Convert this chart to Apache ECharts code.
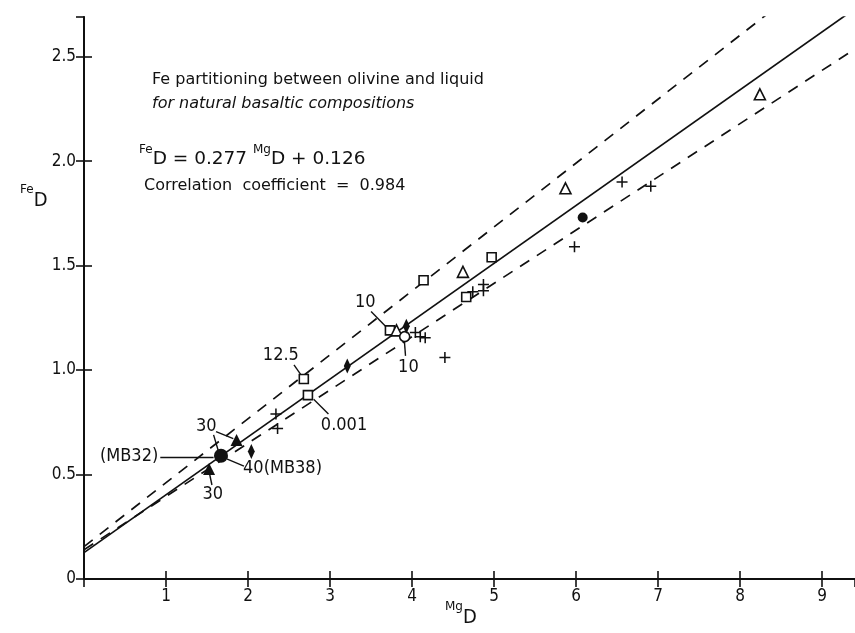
<!DOCTYPE html>
<html>
<head>
<meta charset="utf-8">
<script src="https://cdn.jsdelivr.net/npm/echarts@6/dist/echarts.min.js"></script>
<style>
  html, body { margin: 0; padding: 0; background: #fff; }
  #chart { width: 855px; height: 633px; }
</style>
</head>
<body>
<div id="chart"></div>
<script>
// Partition coefficients (MgD, FeD), grouped by plotting symbol
const openSquares     = [[4.97, 1.54], [4.14, 1.43], [4.66, 1.35], [3.73, 1.19], [2.68, 0.957], [2.73, 0.88]];
const openTriangles   = [[5.87, 1.87], [4.62, 1.47], [8.24, 2.32], [3.81, 1.19]];
const openCircles     = [[3.91, 1.16]];
const filledCircles   = [[6.08, 1.73]];
const largeDots       = [[1.67, 0.59]];
const filledTriangles = [[1.86, 0.665], [1.525, 0.526]];
const filledDiamonds  = [[3.21, 1.02], [2.04, 0.61], [3.93, 1.21]];
const crosses = [
  [4.74, 1.375], [4.87, 1.41], [4.87, 1.38], [4.04, 1.18], [4.10, 1.16], [4.16, 1.155],
  [4.40, 1.06], [6.56, 1.90], [6.91, 1.88], [5.98, 1.59], [2.34, 0.79], [2.36, 0.72]
];

// Regression line and the two bounding lines: [slope, intercept]
const fitLine    = [0.277, 0.126];
const upperBound = [0.306, 0.155];
const lowerBound = [0.255, 0.140];

// Axis ranges and ticks
const xRange = [0, 9.4];
const yRange = [0, 2.69];
const xStep = 1;
const yStep = 0.5;

// Run-condition callouts: label, anchor of the text, leader segments
const callouts = [
  { text: '10',       at: [3.43, 1.325], leaders: [[[3.50, 1.28], [3.70, 1.20]]] },
  { text: '10',       at: [3.955, 1.012], leaders: [[[3.905, 1.145], [3.92, 1.068]]] },
  { text: '12.5',     at: [2.40, 1.07],  leaders: [[[2.56, 1.025], [2.65, 0.975]]] },
  { text: '0.001',    at: [3.17, 0.737], leaders: [[[2.80, 0.86], [2.98, 0.79]]] },
  { text: '30',       at: [1.49, 0.733], leaders: [[[1.61, 0.705], [1.82, 0.672]], [[1.58, 0.69], [1.64, 0.61]]] },
  { text: '(MB32)',   at: [0.55, 0.585], leaders: [[[0.93, 0.583], [1.58, 0.583]]] },
  { text: '40(MB38)', at: [2.42, 0.531], leaders: [[[1.74, 0.575], [1.95, 0.54]]] },
  { text: '30',       at: [1.57, 0.405], leaders: [[[1.53, 0.505], [1.56, 0.45]]] }
];

const INK = '#111';
const NUM_FONT = "'DejaVu Sans Condensed', 'DejaVu Sans', sans-serif";
const TXT_FONT = "'DejaVu Sans', sans-serif";

function lineData(coef) {
  return [[xRange[0], coef[1] + coef[0] * xRange[0]], [xRange[1], coef[1] + coef[0] * xRange[1]]];
}

function onStep(v, step) {
  return Math.abs(v / step - Math.round(v / step)) < 1e-9;
}

const openStyle = { color: '#fff', borderColor: INK, borderWidth: 1.6, opacity: 1 };
const solidStyle = { color: INK, opacity: 1 };
const plusPath = 'path://M4.3,0H5.7V10H4.3Z M0,4.3H10V5.7H0Z';

function scatter(data, symbol, size, style) {
  return {
    type: 'scatter', data: data, symbol: symbol, symbolSize: size,
    itemStyle: style, z: 5, silent: true, animation: false
  };
}

const leaderSegments = [];
callouts.forEach(c => c.leaders.forEach(seg => leaderSegments.push({ coords: seg })));

const chart = echarts.init(document.getElementById('chart'), null, { renderer: 'canvas' });

const xAxisBase = {
  type: 'value', min: xRange[0], max: xRange[1], interval: xStep,
  splitLine: { show: false }
};
const yAxisBase = {
  type: 'value', min: yRange[0], max: yRange[1], interval: yStep,
  splitLine: { show: false }
};

chart.setOption({
  animation: false,
  backgroundColor: '#fff',
  grid: { left: 84, top: 17, width: 774, height: 562, containLabel: false },
  xAxis: [
    Object.assign({}, xAxisBase, {
      position: 'bottom',
      axisLine: { lineStyle: { color: INK, width: 2 } },
      axisTick: { inside: true, length: 8, lineStyle: { color: INK, width: 1.6 } },
      axisLabel: {
        color: INK, fontSize: 17, fontFamily: NUM_FONT, margin: 9, showMaxLabel: false,
        formatter: v => (v === 0 || !onStep(v, xStep)) ? '' : String(v)
      }
    }),
    Object.assign({}, xAxisBase, {
      position: 'top',
      axisLine: { lineStyle: { color: INK, width: 1.6 } },
      axisTick: { inside: true, length: 8, lineStyle: { color: INK, width: 1.6 } },
      axisLabel: { show: false }
    })
  ],
  yAxis: [
    Object.assign({}, yAxisBase, {
      position: 'left',
      axisLine: { lineStyle: { color: INK, width: 2 } },
      axisTick: { inside: true, length: 8, lineStyle: { color: INK, width: 1.6 } },
      axisLabel: {
        color: INK, fontSize: 17, fontFamily: NUM_FONT, margin: 8, showMaxLabel: false,
        formatter: v => !onStep(v, yStep) ? '' : (v === 0 ? '0' : v.toFixed(1))
      }
    }),
    Object.assign({}, yAxisBase, {
      position: 'right',
      axisLine: { lineStyle: { color: INK, width: 1.6 } },
      axisTick: { inside: true, length: 8, lineStyle: { color: INK, width: 1.6 } },
      axisLabel: { show: false }
    })
  ],
  series: [
    { type: 'line', data: lineData(fitLine), symbol: 'none', clip: true, silent: true,
      lineStyle: { color: INK, width: 1.7, type: 'solid' }, z: 3 },
    { type: 'line', data: lineData(upperBound), symbol: 'none', clip: true, silent: true,
      lineStyle: { color: INK, width: 1.7, type: [11, 9] }, z: 3 },
    { type: 'line', data: lineData(lowerBound), symbol: 'none', clip: true, silent: true,
      lineStyle: { color: INK, width: 1.7, type: [11, 9] }, z: 3 },
    { type: 'lines', coordinateSystem: 'cartesian2d', data: leaderSegments, silent: true,
      lineStyle: { color: INK, width: 1.4, opacity: 1 }, z: 4 },
    scatter(openSquares, 'rect', 9, openStyle),
    scatter(openTriangles, 'triangle', 11, openStyle),
    scatter(openCircles, 'circle', 10, openStyle),
    scatter(filledCircles, 'circle', 10, solidStyle),
    scatter(largeDots, 'circle', 14, solidStyle),
    scatter(filledTriangles, 'triangle', 12, solidStyle),
    scatter(filledDiamonds, 'diamond', [7, 15], solidStyle),
    scatter(crosses, plusPath, 11, solidStyle),
    {
      type: 'scatter', silent: true, z: 6, symbolSize: 1,
      itemStyle: { color: 'rgba(0,0,0,0)', opacity: 1 },
      data: callouts.map(c => ({ value: c.at, name: c.text })),
      label: {
        show: true, position: 'inside', formatter: p => p.name,
        color: INK, fontSize: 18, fontFamily: NUM_FONT
      }
    }
  ],
  graphic: [
    { type: 'text', left: 152, top: 72, silent: true,
      style: { text: 'Fe partitioning between olivine and liquid', fill: INK,
               font: "16px 'DejaVu Sans', sans-serif" } },
    { type: 'text', left: 152, top: 96, silent: true,
      style: { text: 'for natural basaltic compositions', fill: INK,
               font: "italic 16px 'DejaVu Sans', sans-serif" } },
    { type: 'text', left: 139, top: 144, silent: true,
      style: {
        text: '{s|Fe}{n|D = 0.277 }{s|Mg}{n|D + 0.126}', fill: INK,
        rich: {
          s: { fontSize: 12, fontFamily: TXT_FONT, verticalAlign: 'top', fill: INK },
          n: { fontSize: 18.5, fontFamily: TXT_FONT, verticalAlign: 'bottom', padding: [6, 0, 0, 0], fill: INK }
        }
      } },
    { type: 'text', left: 144, top: 178, silent: true,
      style: { text: 'Correlation  coefficient  =  0.984', fill: INK,
               font: "16px 'DejaVu Sans', sans-serif" } },
    { type: 'text', left: 20, top: 184, silent: true,
      style: {
        text: '{s|Fe}{n|D}', fill: INK,
        rich: {
          s: { fontSize: 12, fontFamily: TXT_FONT, verticalAlign: 'top', fill: INK },
          n: { fontSize: 20, fontFamily: NUM_FONT, verticalAlign: 'bottom', padding: [7, 0, 0, 0], fill: INK }
        }
      } },
    { type: 'text', left: 445, top: 601, silent: true,
      style: {
        text: '{s|Mg}{n|D}', fill: INK,
        rich: {
          s: { fontSize: 12, fontFamily: TXT_FONT, verticalAlign: 'top', fill: INK },
          n: { fontSize: 20, fontFamily: NUM_FONT, verticalAlign: 'bottom', padding: [7, 0, 0, 0], fill: INK }
        }
      } }
  ]
});
</script>
</body>
</html>
